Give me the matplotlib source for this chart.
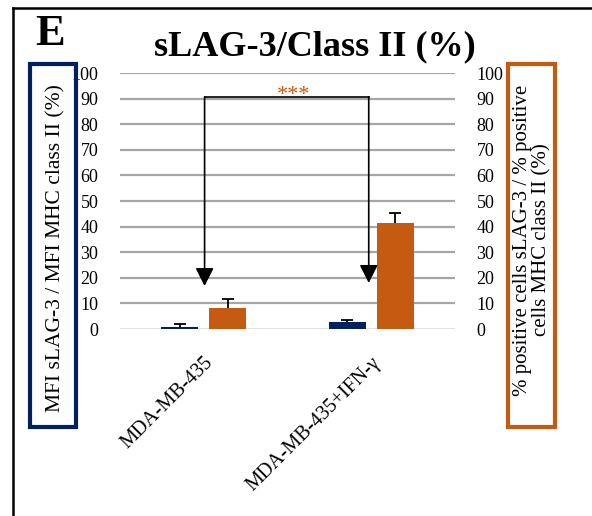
import numpy as np
import matplotlib
matplotlib.use('Agg')
import matplotlib.pyplot as plt
import matplotlib.transforms as mtrans
from matplotlib.patches import Rectangle
from matplotlib.lines import Line2D

################## data ##################
categories = ['MDA-MB-435', 'MDA-MB-435+IFN-\u03b3']
mfiRatio = [0.9, 2.6]
mfiErr = [0.9, 0.8]
positiveRatio = [8.3, 41.3]
positiveErr = [3.4, 3.9]
yTicks = [0, 10, 20, 30, 40, 50, 60, 70, 80, 90, 100]

navy = '#002060'
orange = '#C55A11'

plt.rcParams['font.family'] = ['Liberation Serif', 'DejaVu Serif']

fig = plt.figure(figsize=(5.92, 5.16), dpi=100)
W, H = 592, 516

def fx(px):
    return px / W

def fy(py):
    return 1 - py / H

ax = fig.add_axes([fx(120), fy(329), fx(455) - fx(120), fy(73) - fy(329)])

x = np.arange(len(categories))
barW = 0.22
off = 0.143
ax.bar(x - off, mfiRatio, width=barW, color=navy, zorder=2)
ax.bar(x + off, positiveRatio, width=barW, color=orange, zorder=2)
for xs, vals, errs in [(x - off, mfiRatio, mfiErr), (x + off, positiveRatio, positiveErr)]:
    eb = ax.errorbar(xs, vals, yerr=[np.zeros(2), errs], fmt='none', ecolor='black',
                     elinewidth=1.3, capsize=4.5, capthick=1.3, zorder=3)
    # only the upper cap (T shape)
    eb[1][0].remove()

# gridlines
for t in yTicks[1:]:
    ax.axhline(t, color='#A6A6A6', lw=1.6, zorder=0)
ax.axhline(0, color='#D9D9D9', lw=1.8, zorder=1)

ax.set_xlim(-0.5, 1.5)
ax.set_ylim(0, 100)
ax.set_yticks(yTicks)
ax.set_xticks(x)
ax.set_xticklabels(categories, rotation=45, ha='right', va='top',
                   rotation_mode='anchor', fontsize=14.5)
shift = mtrans.ScaledTranslation(-8 / 100, 0, fig.dpi_scale_trans)
for lab in ax.get_xticklabels():
    lab.set_transform(lab.get_transform() + shift)
ax.tick_params(axis='y', left=False, right=False, labelleft=True,
               labelright=True, labelsize=13, pad=12)
ax.tick_params(axis='x', bottom=False, pad=14)
for s in ax.spines.values():
    s.set_visible(False)

# significance bracket with arrows
bx = [0.005, 0.985]
topY = 90.7
ax.plot(bx, [topY, topY], color='black', lw=1.2, zorder=4)
for xi, tip in zip(bx, [16.8, 18.0]):
    ax.annotate('', xy=(xi, tip), xytext=(xi, topY),
                arrowprops=dict(arrowstyle='-|>,head_length=0.55,head_width=0.28',
                                mutation_scale=20, color='black', lw=1.2,
                                shrinkA=0, shrinkB=0), zorder=4)
ax.text(0.535, 89.6, '***', color=orange, fontsize=16, ha='center', va='baseline')

# titles
fig.text(fx(35), fy(45), 'E', fontsize=32, fontweight='bold', ha='left', va='baseline')
fig.text(fx(315), fy(55), 'sLAG-3/Class II (%)', fontsize=26, fontweight='bold',
         ha='center', va='baseline')

# boxed axis labels
fig.patches.append(Rectangle((fx(30), fy(427)), fx(76) - fx(30), fy(64) - fy(427),
                             transform=fig.transFigure, fill=False,
                             edgecolor=navy, lw=3))
fig.text(fx(56), fy(248), 'MFI sLAG-3 / MFI MHC class II (%)', rotation=90,
         fontsize=15.5, ha='center', va='center')
fig.patches.append(Rectangle((fx(508), fy(427)), fx(555) - fx(508), fy(64) - fy(427),
                             transform=fig.transFigure, fill=False,
                             edgecolor=orange, lw=3))
fig.text(fx(532), fy(240), '% positive cells sLAG-3 / % positive\ncells MHC class II (%)',
         rotation=90, fontsize=15, ha='center', va='center', multialignment='center',
         linespacing=1.05)

# panel frame
fig.lines.append(Line2D([fx(13), 1], [fy(8), fy(8)], transform=fig.transFigure,
                        color='black', lw=1.8))
fig.lines.append(Line2D([fx(13), fx(13)], [fy(8), 0], transform=fig.transFigure,
                        color='black', lw=1.8))

fig.savefig('out.png', dpi=100)
